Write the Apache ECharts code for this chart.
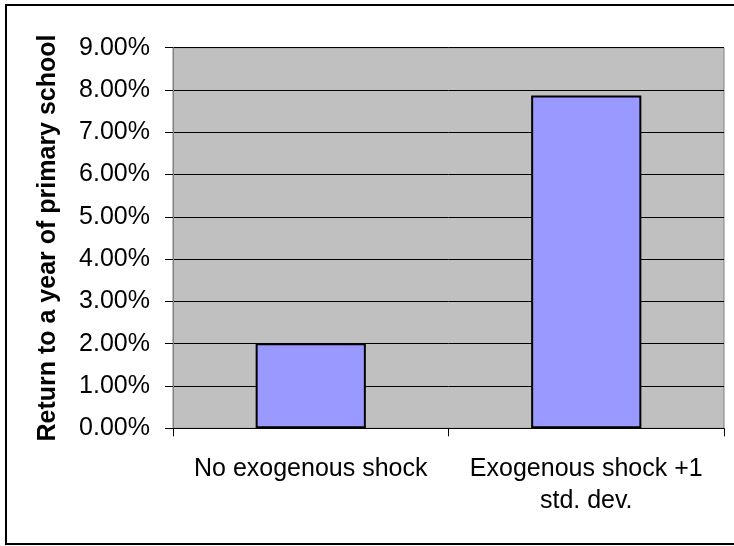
<!DOCTYPE html>
<html>
<head>
<meta charset="utf-8">
<script src="https://cdn.jsdelivr.net/npm/echarts@6/dist/echarts.min.js"></script>
<style>
  html, body { margin: 0; padding: 0; background: #fff; }
  #chart { width: 734px; height: 546px; }
</style>
</head>
<body>
<div id="chart"></div>
<script>
// values
var categories = ['No exogenous shock', 'Exogenous shock +1\nstd. dev.'];
var returns = [0.0201, 0.0787];
var yTicks = { min: 0, max: 0.09, interval: 0.01 };
var yTitle = 'Return to a year of primary school';

var chart = echarts.init(document.getElementById('chart'));
var option = {
    animation: false,
    backgroundColor: '#fff',
    textStyle: { fontFamily: 'Liberation Sans, Arial, sans-serif' },
    graphic: [{
        type: 'rect',
        shape: { x: 6, y: 5, width: 760, height: 539 },
        style: { fill: 'none', stroke: '#000', lineWidth: 2 },
        z: 100
    }],
    grid: {
        left: 173, top: 47.7, right: 10, bottom: 117.7,
        show: true,
        backgroundColor: '#c0c0c0',
        borderColor: '#808080',
        borderWidth: 1
    },
    xAxis: {
        type: 'category',
        data: categories,
        axisLine: { lineStyle: { color: '#000', width: 1 } },
        axisTick: { show: true, length: 8, lineStyle: { color: '#000' } },
        axisLabel: {
            interval: 0,
            color: '#000', fontSize: 25, lineHeight: 32, margin: 25,
            fontFamily: 'Liberation Sans, Arial, sans-serif'
        },
        splitLine: { show: false }
    },
    yAxis: {
        type: 'value',
        min: yTicks.min,
        max: yTicks.max,
        interval: yTicks.interval,
        name: yTitle,
        nameLocation: 'middle',
        nameGap: 112,
        nameTextStyle: {
            color: '#000', fontSize: 25, fontWeight: 'bold',
            fontFamily: 'Liberation Sans, Arial, sans-serif'
        },
        axisLine: { show: true, lineStyle: { color: '#808080', width: 1 } },
        axisTick: { show: true, length: 8, lineStyle: { color: '#000' } },
        axisLabel: {
            color: '#000', fontSize: 25, margin: 23,
            fontFamily: 'Liberation Sans, Arial, sans-serif',
            formatter: function (v) { return (v * 100).toFixed(2) + '%'; }
        },
        splitLine: { show: true, lineStyle: { color: '#000', width: 1 } }
    },
    series: [{
        type: 'bar',
        data: returns,
        barWidth: '40%',
        itemStyle: { color: '#9999ff', borderColor: '#000', borderWidth: 2 }
    }]
};
chart.setOption(option);
</script>
</body>
</html>
